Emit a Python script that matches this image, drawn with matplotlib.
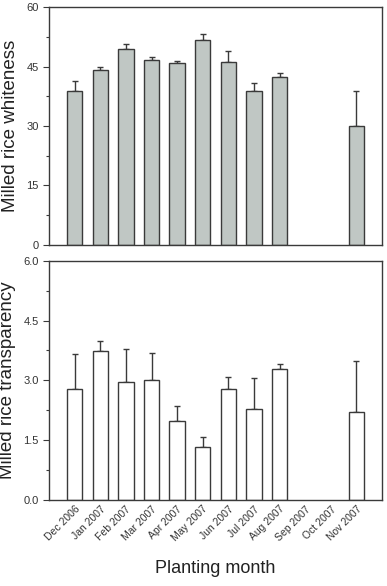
import numpy as np
import matplotlib
matplotlib.use('Agg')
import matplotlib.pyplot as plt
from matplotlib.ticker import MultipleLocator

plt.rcParams['font.family'] = ['Liberation Sans', 'DejaVu Sans']

months = ['Dec 2006', 'Jan 2007', 'Feb 2007', 'Mar 2007', 'Apr 2007', 'May 2007',
          'Jun 2007', 'Jul 2007', 'Aug 2007', 'Sep 2007', 'Oct 2007', 'Nov 2007']

# whiteness (mean, upper error)
white = [38.9, 44.2, 49.4, 46.7, 46.0, 51.7, 46.1, 38.9, 42.4, np.nan, np.nan, 29.9]
white_err = [2.4, 0.7, 1.4, 0.8, 0.5, 1.4, 2.9, 2.0, 0.9, np.nan, np.nan, 8.8]

# transparency (mean, upper error)
trans = [2.78, 3.73, 2.95, 3.00, 1.99, 1.32, 2.78, 2.27, 3.29, np.nan, np.nan, 2.21]
trans_err = [0.88, 0.25, 0.84, 0.68, 0.37, 0.25, 0.30, 0.80, 0.13, np.nan, np.nan, 1.27]

edge = '#3a3a3a'
x = np.arange(len(months))

fig = plt.figure(figsize=(3.87, 5.86), dpi=100)
ax1 = fig.add_axes([0.127, 0.582, 0.860, 0.406])
ax2 = fig.add_axes([0.127, 0.147, 0.860, 0.408])

def draw(ax, vals, errs, color):
    ax.bar(x, vals, width=0.6, color=color, edgecolor=edge, linewidth=1.0, zorder=2)
    ax.errorbar(x, vals, yerr=[np.zeros(len(errs)), errs], fmt='none',
                ecolor=edge, elinewidth=1.0, capsize=2.5, capthick=1.0, zorder=1)
    ax.set_xlim(-1, 12)
    for s in ax.spines.values():
        s.set_color(edge)
        s.set_linewidth(1.0)
    ax.tick_params(axis='y', direction='out', length=4, width=0.8, color=edge,
                   labelsize=8, labelcolor='#333333')
    ax.tick_params(axis='y', which='minor', direction='out', length=2.5, width=0.8, color=edge)
    ax.tick_params(axis='x', direction='out', length=0, width=0.8, color=edge)

draw(ax1, white, white_err, '#c0c7c4')
ax1.set_ylim(0, 60)
ax1.yaxis.set_major_locator(MultipleLocator(15))
ax1.yaxis.set_minor_locator(MultipleLocator(7.5))
ax1.set_xticks([])
ax1.set_ylabel('Milled rice whiteness', fontsize=13.5, color='#222222', labelpad=5)

draw(ax2, trans, trans_err, 'white')
ax2.set_ylim(0, 6)
ax2.yaxis.set_major_locator(MultipleLocator(1.5))
ax2.yaxis.set_minor_locator(MultipleLocator(0.75))
ax2.yaxis.set_major_formatter(matplotlib.ticker.FormatStrFormatter('%.1f'))
ax2.set_xticks(x)
ax2.set_xticklabels(months, rotation=45, ha='right', rotation_mode='anchor',
                    fontsize=7.5, color='#333333')
ax2.tick_params(axis='x', pad=3)
ax2.set_ylabel('Milled rice transparency', fontsize=13.5, color='#222222', labelpad=5)
ax2.set_xlabel('Planting month', fontsize=13, color='#222222', labelpad=12)

fig.savefig('out.png', dpi=100)
